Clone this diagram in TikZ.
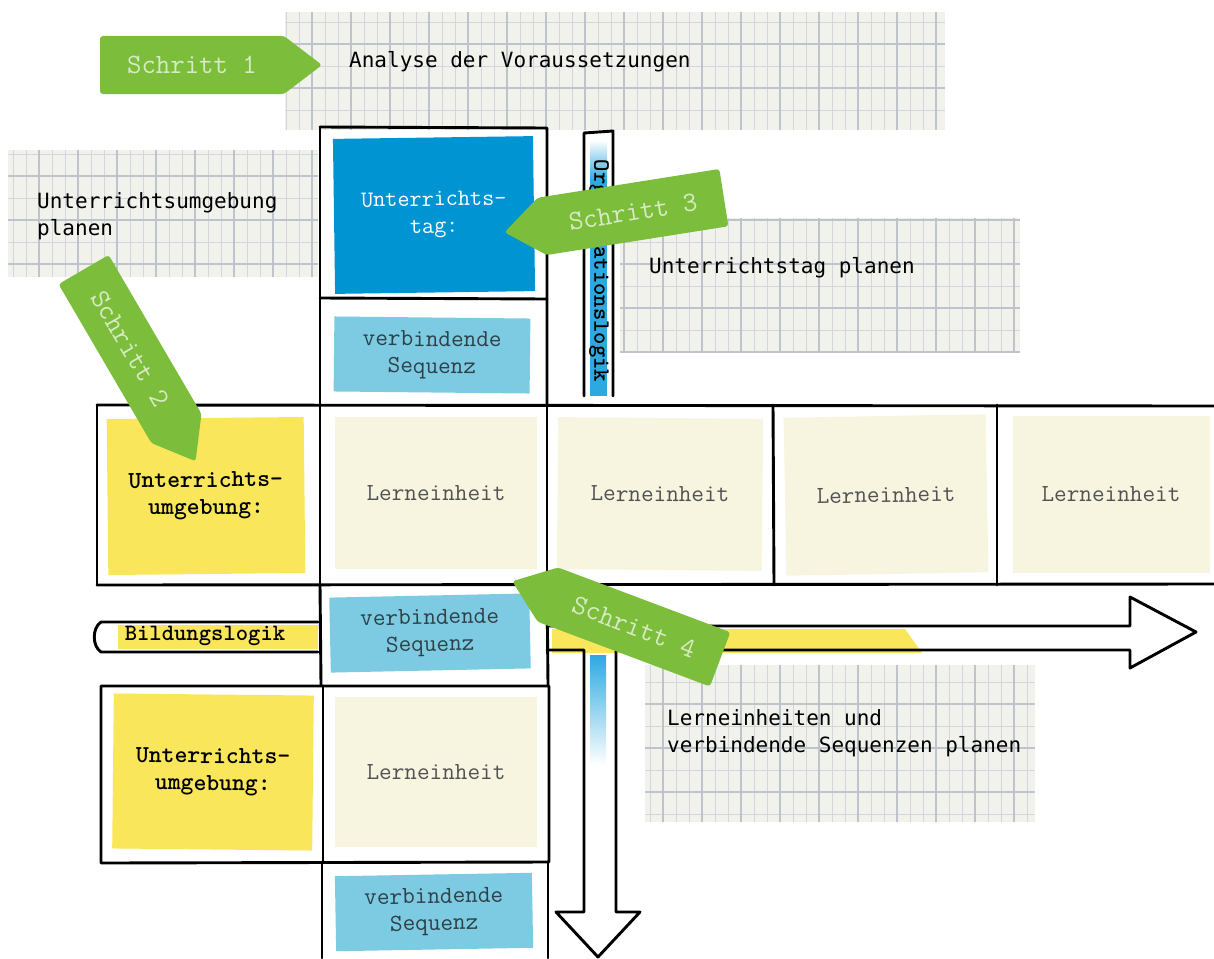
\documentclass[tikz,border=0pt]{standalone}
\usepackage{fontspec}
\newfontfamily\labelfont{DejaVu Sans Mono}
\definecolor{schrittgreen}{HTML}{7CBD3C}
\definecolor{schritttext}{HTML}{D6EBC2}
\definecolor{tagblue}{HTML}{0094D2}
\definecolor{seqblue}{HTML}{7DCBE2}
\definecolor{umgyellow}{HTML}{FAE65A}
\definecolor{lecream}{HTML}{F7F5E0}
\definecolor{stripeblue}{HTML}{2DA9E1}
\definecolor{paper}{HTML}{F2F2ED}
\definecolor{gridgray}{HTML}{D3D6DC}
\definecolor{gridgrayb}{HTML}{BFC3CB}
\definecolor{seqtext}{HTML}{2E4048}

\newcommand{\paperpatch}[4]{%
  \begin{scope}
    \clip (#1,#2) rectangle (#3,#4);
    \fill[paper] (#1,#2) rectangle (#3,#4);
    \draw[gridfine] (#1,#2) grid[xstep=13pt,ystep=22pt] (#3,#4);
    \draw[gridbold] (#1,#2) grid[xstep=39pt,ystep=44pt] (#3,#4);
  \end{scope}}

\newcommand{\schrittpfeil}[6]{%
  \begin{scope}[shift={(#2,#3)}, rotate=#4]
    \fill[schrittgreen, rounded corners=3pt] (-92,-29) -- (92,-29) -- (130,0) -- (92,29) -- (-92,29) -- cycle;
  \end{scope}
  \node[schrittlabel, rotate=#5] (#1) at (#2,#3) {#6};}

\begin{document}
\begin{tikzpicture}[x=1pt,y=-1pt,
  hand/.style={line width=2.9pt, line join=round, line cap=round, draw=black},
  gridfine/.style={draw=gridgray, line width=0.9pt},
  gridbold/.style={draw=gridgrayb, line width=1.1pt},
  sheet/.style={draw=none, inner sep=0pt, outer sep=0pt, align=center,
    font=\ttfamily\fontsize{24.5}{27}\selectfont},
  tagbox/.style={sheet, fill=tagblue, text=white, minimum width=200pt, minimum height=155pt,
    font=\ttfamily\fontsize{23.5}{27}\selectfont},
  seqbox/.style={sheet, fill=seqblue, text=seqtext, minimum width=196pt, minimum height=75pt},
  umgbox/.style={sheet, fill=umgyellow, text=black, minimum width=197pt, minimum height=156pt,
    font=\ttfamily\bfseries\fontsize{24.5}{27}\selectfont},
  lernbox/.style={sheet, fill=lecream, text=black!68, minimum width=202pt, minimum height=152pt},
  planlabel/.style={font=\labelfont\fontsize{21}{27.5}\selectfont, text=black, align=left, anchor=west, inner sep=0pt},
  schrittlabel/.style={font=\ttfamily\fontsize{28}{30}\selectfont, text=schritttext, inner sep=0pt},
  logiklabel/.style={font=\ttfamily\bfseries\fontsize{23.5}{26}\selectfont, text=black, inner sep=0pt}
]
\useasboundingbox (0,0) rectangle (1214,958);
\fill[white] (0,0) rectangle (1214,958);

% graph paper patches
\paperpatch{285}{12}{945}{130}
\paperpatch{8}{150}{318}{277}
\paperpatch{620}{218}{1020}{352}
\paperpatch{645}{665}{1035}{822}

% planning labels
\node[planlabel] (analyse) at (349,62) {Analyse der Voraussetzungen};
\node[planlabel] (umgplan) at (37,216) {Unterrichtsumgebung\\planen};
\node[planlabel] (tagplan) at (649,268) {Unterrichtstag planen};
\node[planlabel] (lernplan) at (667,733) {Lerneinheiten und\\verbindende Sequenzen planen};

% coloured sheets
\node[tagbox, rotate=0.8] (tag) at (434,215) {Unterrichts-\\tag:};
\node[seqbox, rotate=-0.6] (seq1) at (432,355) {verbindende\\Sequenz};
\node[umgbox, rotate=0.6] (umg1) at (206,496) {Unterrichts-\\umgebung:};
\node[lernbox] (le1) at (436,493) {Lerneinheit};
\node[lernbox, minimum width=205pt, rotate=-0.5] (le2) at (660,494) {Lerneinheit};
\node[lernbox, minimum height=158pt, rotate=1] (le3) at (886,495) {Lerneinheit};
\node[lernbox, minimum width=197pt, minimum height=157pt] (le4) at (1111,494) {Lerneinheit};
\node[seqbox, minimum width=200pt, rotate=1.2] (seq2) at (430,633) {verbindende\\Sequenz};
\node[umgbox, minimum width=200pt, minimum height=155pt, rotate=-0.6] (umg2) at (213,772) {Unterrichts-\\umgebung:};
\node[lernbox, minimum height=150pt] (le5) at (436,772) {Lerneinheit};
\node[seqbox, minimum width=197pt, rotate=1] (seq3) at (434,912) {verbindende\\Sequenz};

% table lines
\draw[hand] (320,127) -- (547,128) -- (547,405);
\draw[hand] (320,127) -- (320,405);
\draw[hand] (320,298) -- (547,299);
\draw[hand] (97,405) -- (1214,406);
\draw[hand] (97,585) -- (1214,584);
\draw[hand] (97,405) -- (97,585);
\draw[hand] (320,405) -- (320,585);
\draw[hand] (547,405) -- (547,585);
\draw[hand] (773,405) -- (774,585);
\draw[hand] (997,405) -- (997,585);
\draw[hand] (320,585) -- (321,685);
\draw[hand] (547,585) -- (548,685);
\draw[hand] (101,686) -- (549,686) -- (549,862) -- (101,863) -- cycle;
\draw[hand] (323,686) -- (323,862);
\draw[hand] (322,862) -- (322,958);
\draw[hand] (548,862) -- (548,958);

% Organisationslogik bar
\shade[top color=white, bottom color=stripeblue] (590,140) rectangle (607,180);
\fill[stripeblue] (590,180) rectangle (607,396);
\draw[hand] (584,396) -- (584,133) -- (613,131) -- (613,396);
\node[logiklabel, rotate=-90] (orglogik) at (599,271) {Organisationslogik};

% Bildungslogik bar (left part)
\fill[umgyellow] (118,625) rectangle (318,649);
\draw[hand] (318,622) -- (101,622) .. controls (92,628) and (92,646) .. (101,652) -- (318,652);
\node[logiklabel] (bildlogik) at (205,636) {Bildungslogik};

% arrows continuing right and down
\fill[umgyellow] (552,629) -- (905,629) -- (922,653) -- (552,653) -- cycle;
\shade[top color=stripeblue, bottom color=white] (590,655) rectangle (606,765);
\draw[hand] (547,626) -- (1130,626) -- (1130,597) -- (1196,632) -- (1130,668) -- (1130,650)
  -- (616,650) -- (616,912) -- (640,912) -- (598,957) -- (556,912) -- (584,912) -- (584,650) -- (547,650);

% Schritt arrows
\schrittpfeil{s1}{192}{65}{0}{0}{Schritt 1}
\schrittpfeil{s2}{130}{349}{-59.7}{-59.7}{Schritt 2}
\schrittpfeil{s3}{633}{212}{189}{9}{Schritt 3}
\schrittpfeil{s4}{634}{627}{159.4}{-21}{Schritt 4}
\end{tikzpicture}
\end{document}
